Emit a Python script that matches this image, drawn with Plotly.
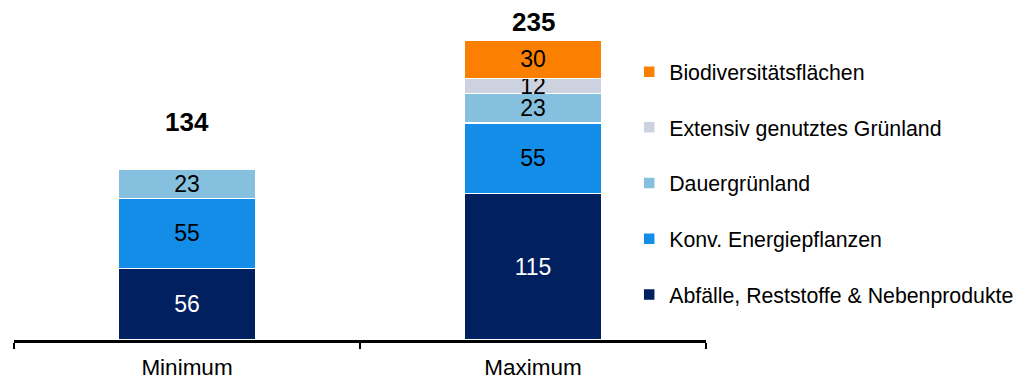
import plotly.graph_objects as go

categories = ["Minimum", "Maximum"]
series_names = [
    "Abfälle, Reststoffe & Nebenprodukte",
    "Konv. Energiepflanzen",
    "Dauergrünland",
    "Extensiv genutztes Grünland",
    "Biodiversitätsflächen",
]
abfaelle = [56, 115]
energiepflanzen = [55, 55]
dauergruenland = [23, 23]
extensiv = [None, 12]
biodiversitaet = [None, 30]
totals = [134, 235]

series_values = [abfaelle, energiepflanzen, dauergruenland, extensiv, biodiversitaet]
colors = ["#002060", "#138DE8", "#85C0DE", "#CDD2E0", "#FB7F00"]
text_colors = ["white", "black", "black", "black", "black"]
total_shift = [47, 18]

FONT = "Liberation Sans, Arial, sans-serif"

fig = go.Figure()
n = len(series_names)
for i, (name, vals) in enumerate(zip(series_names, series_values)):
    fig.add_trace(go.Bar(
        x=categories,
        y=vals,
        name=name,
        legendgroup=name,
        legendrank=(n - i) * 10,
        width=0.4,
        marker=dict(color=colors[i], line=dict(color="white", width=1.5)),
        text=[("" if v is None else str(v)) for v in vals],
        textposition="inside",
        insidetextanchor="middle",
        textangle=0,
        constraintext="none",
        textfont=dict(family=FONT, size=23, color=text_colors[i]),
        hoverinfo="skip",
    ))

for c, t, s in zip(categories, totals, total_shift):
    fig.add_annotation(
        x=c, y=t, text=f"<b>{t}</b>", showarrow=False,
        yanchor="middle", yshift=s,
        font=dict(family=FONT, size=26, color="black"),
    )

fig.update_layout(
    width=1030, height=380,
    barmode="stack",
    plot_bgcolor="white", paper_bgcolor="white",
    margin=dict(l=14, r=324, t=21, b=40, autoexpand=False),
    font=dict(family=FONT, color="black"),
    showlegend=True,
    legend=dict(
        x=0.889, xanchor="left", y=0.905, yanchor="top",
        traceorder="grouped",
        tracegroupgap=25,
        font=dict(family=FONT, size=21.3, color="black"),
        bgcolor="rgba(0,0,0,0)",
    ),
)
fig.update_xaxes(
    range=[-0.5, 1.5],
    showline=True, linecolor="black", linewidth=2.5,
    ticks="outside", tickson="boundaries", ticklen=6, tickwidth=2, tickcolor="black",
    tickfont=dict(family=FONT, size=22.5, color="black"),
    ticklabelstandoff=5,
    showgrid=False, zeroline=False,
)
fig.update_yaxes(
    range=[0, 250], visible=False, showgrid=False, zeroline=False,
)

fig.write_html("out.html")
